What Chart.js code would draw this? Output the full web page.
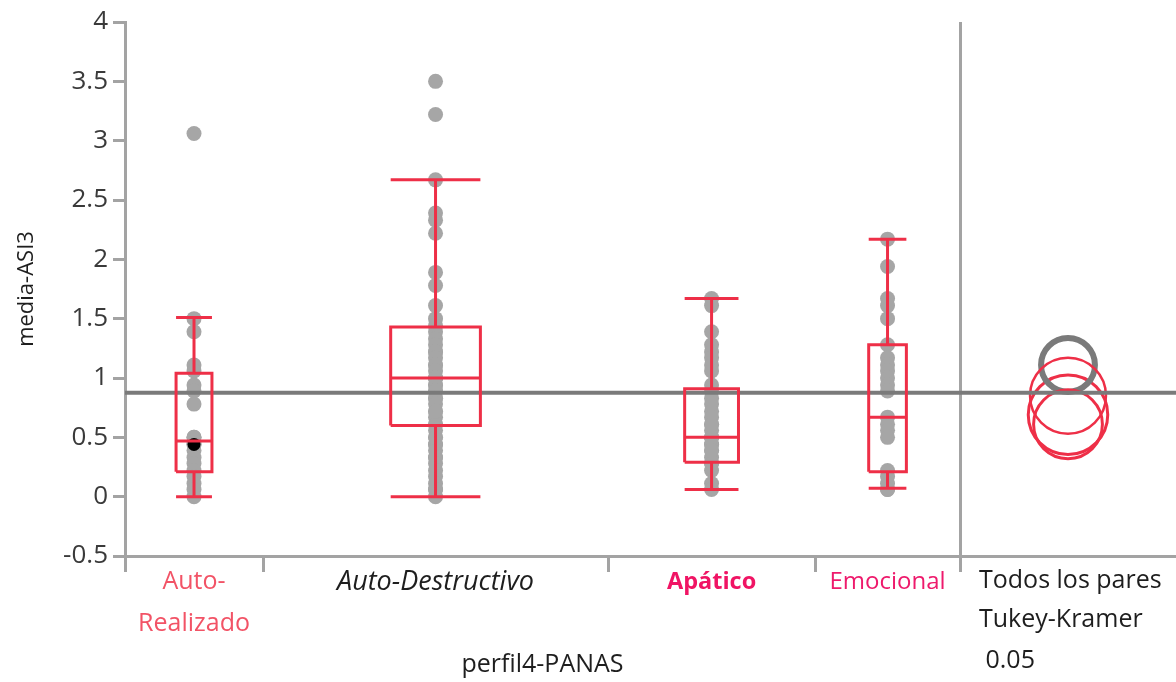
<!DOCTYPE html>
<html>
<head>
<meta charset="utf-8">
<script src="https://cdn.jsdelivr.net/npm/chart.js@4.4.1/dist/chart.umd.min.js"></script>
<style>
  html, body { margin: 0; padding: 0; background: #fff; }
  #wrap { width: 1176px; height: 682px; }
</style>
</head>
<body>
<div id="wrap"><canvas id="oneway"></canvas></div>
<script>
// grupos de perfil4-PANAS y su tamaño (JMP da a cada grupo un ancho proporcional a n)
var grupos = ["Auto-Realizado", "Auto-Destructivo", "Apático", "Emocional"];
var tamanos = [20, 50, 30, 21];

// media-ASI3 de cada individuo
var autoRealizado = [3.06, 1.50, 1.39, 1.11, 1.06, 0.94, 0.89, 0.78, 0.50, 0.50,
  0.44, 0.44, 0.39, 0.33, 0.28, 0.22, 0.17, 0.11, 0.06, 0.00];
var autoDestructivo = [3.50, 3.22, 2.67, 2.39, 2.33, 2.22, 1.89, 1.78, 1.61, 1.50,
  1.44, 1.39, 1.33, 1.28, 1.22, 1.22, 1.17, 1.11, 1.11, 1.06,
  1.00, 1.00, 1.00, 0.94, 0.94, 0.89, 0.89, 0.83, 0.83, 0.78,
  0.72, 0.67, 0.61, 0.61, 0.56, 0.50, 0.44, 0.44, 0.39, 0.33,
  0.33, 0.28, 0.22, 0.17, 0.11, 0.06, 0.06, 0.00, 0.72, 0.50];
var apatico = [1.67, 1.61, 1.39, 1.28, 1.22, 1.17, 1.11, 1.06, 0.94, 0.89,
  0.83, 0.78, 0.72, 0.67, 0.61, 0.56, 0.50, 0.50, 0.44, 0.44,
  0.39, 0.33, 0.28, 0.28, 0.22, 0.11, 0.06, 0.61, 0.50, 0.39];
var emocional = [2.17, 1.94, 1.67, 1.61, 1.50, 1.28, 1.17, 1.11, 1.06, 1.00,
  0.94, 0.67, 0.61, 0.56, 0.50, 0.22, 0.17, 0.11, 0.06, 0.06, 0.89];
var valores = [autoRealizado, autoDestructivo, apatico, emocional];

// diagramas de caja (cuantiles)
var bigoteBajo = [0.00, 0.00, 0.06, 0.07];
var cuartil1 = [0.21, 0.60, 0.29, 0.21];
var mediana = [0.47, 1.00, 0.50, 0.67];
var cuartil3 = [1.04, 1.43, 0.91, 1.28];
var bigoteAlto = [1.51, 2.67, 1.67, 2.17];

var mediaGlobal = 0.876;
var puntoMarcado = 0.44;   // fila seleccionada en Auto-Realizado

// círculos de comparación (Tukey-Kramer 0.05)
var mediasGrupo = [0.69, 1.11, 0.61, 0.85];
var radiosCirculo = [0.335, 0.227, 0.29, 0.32];

var yTicks = [-0.5, 4];

// ---- geometría en unidades de x ----
var limites = [0];
tamanos.forEach(function (n, i) { limites.push(limites[i] + n); });
var total = limites[limites.length - 1];
var xMax = total * 1051 / 835;            // deja sitio para el panel de círculos
var centros = tamanos.map(function (n, i) { return limites[i] + n / 2; });
var centroPanel = (total + xMax) / 2;

var ROJO = "#ee2f47";
var GRIS_EJE = "#a3a3a3";
var FUENTE = "'Open Sans', 'Noto Sans', sans-serif";

var estilosEtiqueta = [
  { color: "#f25366", style: "normal", weight: "normal", size: 25 },
  { color: "#1e1e1e", style: "italic", weight: "normal", size: 27 },
  { color: "#f01464", style: "normal", weight: "bold", size: 23.5 },
  { color: "#ee1a6c", style: "normal", weight: "normal", size: 24 }
];
var textosGrupo = [["Auto-", "Realizado"], grupos[1], grupos[2], grupos[3]];

// marcas del eje x: límites (con raya) y centros (con texto), ordenadas
var marcasX = limites.map(function (v) { return { value: v, g: -1 }; })
  .concat(centros.map(function (v, i) { return { value: v, g: i }; }))
  .sort(function (a, b) { return a.value - b.value; });

// puntos
var puntosDatasets = valores.map(function (vals, i) {
  return {
    type: "scatter",
    data: vals.map(function (v) { return { x: centros[i], y: v }; }),
    pointRadius: 7.5,
    pointBackgroundColor: "#a6a6a6",
    pointBorderWidth: 0,
    order: 4
  };
});

// cajas y bigotes como segmentos separados por huecos
var cajas = [];
function seg(pts) {
  pts.forEach(function (p) { cajas.push({ x: p[0], y: p[1] }); });
  cajas.push({ x: pts[pts.length - 1][0], y: null });
}
grupos.forEach(function (g, i) {
  var c = centros[i], hw = tamanos[i] * 0.13;
  seg([[c - hw, cuartil1[i]], [c + hw, cuartil1[i]], [c + hw, cuartil3[i]], [c - hw, cuartil3[i]], [c - hw, cuartil1[i]]]);
  seg([[c - hw, mediana[i]], [c + hw, mediana[i]]]);
  seg([[c, cuartil3[i]], [c, bigoteAlto[i]]]);
  seg([[c - hw, bigoteAlto[i]], [c + hw, bigoteAlto[i]]]);
  seg([[c, cuartil1[i]], [c, bigoteBajo[i]]]);
  seg([[c - hw, bigoteBajo[i]], [c + hw, bigoteBajo[i]]]);
});

var textosPanel = {
  id: "textosPanel",
  afterDraw: function (chart) {
    var ctx = chart.ctx, x = chart.scales.x, area = chart.chartArea;
    ctx.save();
    ctx.fillStyle = "#1e1e1e";
    ctx.font = "25px " + FUENTE;
    ctx.textBaseline = "middle";
    ctx.textAlign = "center";
    ctx.fillText("perfil4-PANAS", x.getPixelForValue(total / 2), area.bottom + 109);
    ctx.textAlign = "left";
    var x0 = x.getPixelForValue(total) + 19;
    ctx.fillText("Todos los pares", x0, area.bottom + 25);
    ctx.fillText("Tukey-Kramer", x0, area.bottom + 64);
    ctx.fillText(" 0.05", x0, area.bottom + 105);
    ctx.restore();
  }
};

new Chart(document.getElementById("oneway"), {
  type: "line",
  data: {
    datasets: [
      {
        type: "scatter",
        data: mediasGrupo.map(function (m) { return { x: centroPanel, y: m }; }),
        pointRadius: function (c) {
          var y = c.chart.scales.y;
          return Math.abs(y.getPixelForValue(0) - y.getPixelForValue(radiosCirculo[c.dataIndex]));
        },
        pointBackgroundColor: "rgba(0,0,0,0)",
        pointBorderColor: [ROJO, "#7a7a7a", ROJO, ROJO],
        pointBorderWidth: [3, 6, 3, 2.5],
        order: 6
      },
      {
        type: "line",
        data: [{ x: 0, y: mediaGlobal }, { x: xMax, y: mediaGlobal }],
        borderColor: "#7a7a7a",
        borderWidth: 4,
        pointRadius: 0,
        order: 3
      }
    ].concat(puntosDatasets).concat([
      {
        type: "scatter",
        data: [{ x: centros[0], y: puntoMarcado }],
        pointRadius: 6.5,
        pointBackgroundColor: "#000",
        pointBorderWidth: 0,
        order: 2
      },
      {
        type: "line",
        data: cajas,
        borderColor: ROJO,
        borderWidth: 3,
        borderJoinStyle: "miter",
        pointRadius: 0,
        spanGaps: false,
        order: 1
      }
    ])
  },
  options: {
    responsive: true,
    maintainAspectRatio: false,
    animation: false,
    events: [],
    layout: { autoPadding: false, padding: { top: 22, left: 0, right: 0, bottom: 0 } },
    plugins: {
      legend: { display: false },
      tooltip: { enabled: false }
    },
    scales: {
      x: {
        type: "linear",
        min: 0,
        max: xMax,
        afterBuildTicks: function (scale) {
          scale.ticks = marcasX.map(function (m) { return { value: m.value }; });
        },
        afterFit: function (scale) {
          scale.height = 126;
          scale.paddingLeft = 0;
          scale.paddingRight = 0;
        },
        border: { color: GRIS_EJE, width: 3 },
        grid: {
          drawOnChartArea: true,
          lineWidth: 3,
          color: function (c) {
            return c.tick && c.tick.value === total ? GRIS_EJE : "rgba(0,0,0,0)";
          },
          tickLength: 16,
          tickWidth: 3,
          tickColor: function (c) {
            return marcasX[c.index] && marcasX[c.index].g < 0 ? GRIS_EJE : "rgba(0,0,0,0)";
          }
        },
        ticks: {
          autoSkip: false,
          maxRotation: 0,
          padding: -11,
          callback: function (v, i) {
            var g = marcasX[i].g;
            return g < 0 ? "" : textosGrupo[g];
          },
          color: function (c) {
            var g = marcasX[c.index] ? marcasX[c.index].g : -1;
            return g < 0 ? "#000" : estilosEtiqueta[g].color;
          },
          font: function (c) {
            var g = marcasX[c.index] ? marcasX[c.index].g : -1;
            var e = g < 0 ? estilosEtiqueta[0] : estilosEtiqueta[g];
            return { family: FUENTE, size: e.size, style: e.style, weight: e.weight, lineHeight: "42px" };
          }
        }
      },
      y: {
        type: "linear",
        min: yTicks[0],
        max: yTicks[1],
        afterFit: function (scale) { scale.width = 125; },
        border: { color: GRIS_EJE, width: 3 },
        grid: { drawOnChartArea: false, tickLength: 12, tickWidth: 3, tickColor: GRIS_EJE },
        ticks: {
          stepSize: 0.5,
          color: "#3a3a3a",
          padding: 5,
          font: { family: FUENTE, size: 26 },
          callback: function (v) { return String(Math.round(v * 10) / 10); }
        },
        title: {
          display: true,
          text: "media-ASI3",
          color: "#1e1e1e",
          font: { family: FUENTE, size: 22 },
          padding: { top: 14, bottom: 0 }
        }
      }
    }
  },
  plugins: [textosPanel]
});
</script>
</body>
</html>
